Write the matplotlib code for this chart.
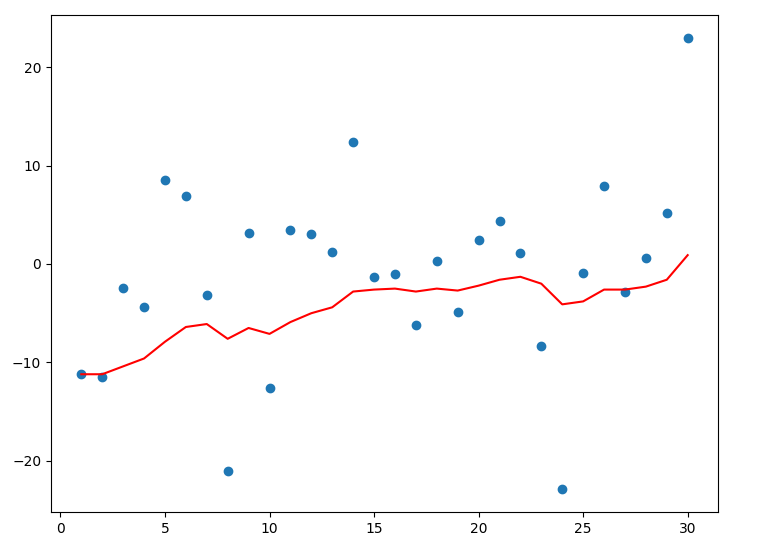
import matplotlib
matplotlib.use("Agg")
import matplotlib.pyplot as plt

x = list(range(1, 31))
points = [-11.2, -11.5, -2.4, -4.4, 8.5, 6.9, -3.1, -21.0, 3.1, -12.6,
          3.5, 3.0, 1.2, 12.4, -1.3, -1.0, -6.2, 0.3, -4.9, 2.4,
          4.4, 1.1, -8.3, -22.9, -0.9, 7.9, -2.8, 0.6, 5.2, 23.0]
trend = [-11.2, -11.2, -10.4, -9.6, -7.9, -6.4, -6.1, -7.6, -6.5, -7.1,
         -5.9, -5.0, -4.4, -2.8, -2.6, -2.5, -2.8, -2.5, -2.7, -2.2,
         -1.6, -1.3, -2.0, -4.1, -3.8, -2.6, -2.6, -2.3, -1.6, 0.9]

fig = plt.figure(figsize=(7.78, 5.53), dpi=100)
ax = fig.add_axes([51 / 778, 1 - 512 / 553, (718 - 51) / 778, (512 - 15) / 553])
ax.scatter(x, points)
ax.plot(x, trend, color='red')
fig.savefig('out.png', dpi=100)
